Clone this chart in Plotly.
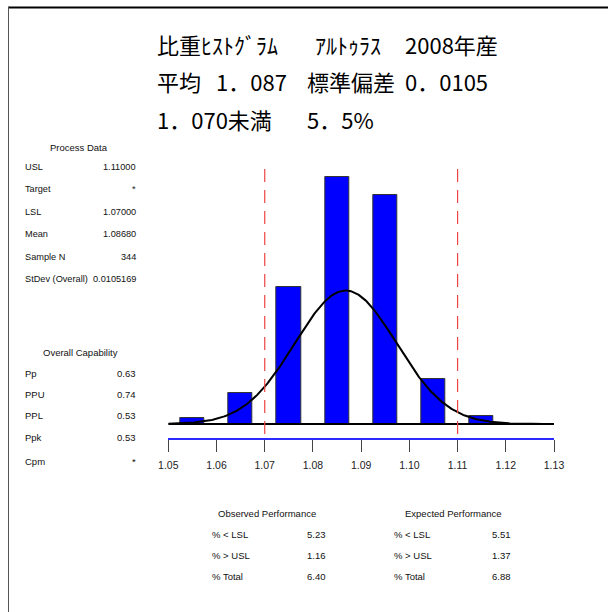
import numpy as np
import plotly.graph_objects as go

# ---------------- data ----------------
bin_centers = [1.055, 1.065, 1.075, 1.085, 1.095, 1.105, 1.115]
counts = [3, 15, 67, 121, 112, 22, 4]
bin_width = 0.005
LSL, USL = 1.07, 1.11
mean, stdev, n = 1.0868, 0.0105169, 344
tick_vals = [1.05, 1.06, 1.07, 1.08, 1.09, 1.10, 1.11, 1.12, 1.13]
tick_text = ["1.05", "1.06", "1.07", "1.08", "1.09", "1.10", "1.11", "1.12", "1.13"]

process_labels = ["USL", "Target", "LSL", "Mean", "Sample N", "StDev (Overall)"]
process_values = ["1.11000", "*", "1.07000", "1.08680", "344", "0.0105169"]
cap_labels = ["Pp", "PPU", "PPL", "Ppk", "", "Cpm"]
cap_values = ["0.63", "0.74", "0.53", "0.53", "", "*"]
perf_labels = ["% < LSL", "% > USL", "% Total"]
obs_values = ["5.23", "1.16", "6.40"]
exp_values = ["5.51", "1.37", "6.88"]

title_lines = [
    [("比重ﾋｽﾄｸﾞﾗﾑ", 155), ("ｱﾙﾄｩﾗｽ", 313), ("2008年産", 403)],
    [("平均", 155), ("1．087", 214), ("標準偏差", 305), ("0．0105", 403)],
    [("1．070未満", 155), ("5．5%", 305)],
]

# ---------------- layout geometry ----------------
W, H = 608, 612
def px(x): return x / W
def py(y): return 1 - y / H

ppc = 2.045  # pixels per count
y_top_px, y_base_px, y_axis_px = 169, 424, 438
ymin = -(y_axis_px - y_base_px) / ppc
ymax = (y_base_px - y_top_px) / ppc

SANS = "Liberation Sans, Arial, sans-serif"
CJK = "Noto Sans CJK JP"

fig = go.Figure()
fig.add_trace(go.Bar(
    x=bin_centers, y=counts, width=bin_width,
    marker=dict(color="#0000ff", line=dict(color="#333333", width=1)),
    hoverinfo="skip", showlegend=False,
))

xs = np.linspace(1.05, 1.13, 400)
curve = n * bin_width * np.exp(-0.5 * ((xs - mean) / stdev) ** 2) / (stdev * np.sqrt(2 * np.pi))
fig.add_trace(go.Scatter(x=xs, y=curve, mode="lines",
                         line=dict(color="black", width=2), showlegend=False, hoverinfo="skip"))

shapes = []
shapes.append(dict(type="line", xref="x", yref="y", x0=1.05, x1=1.13, y0=0, y1=0,
                   line=dict(color="black", width=2), layer="above"))
for v in (LSL, USL):
    shapes.append(dict(type="line", xref="x", yref="y", x0=v, x1=v, y0=ymax, y1=ymin,
                       line=dict(color="#ee4444", width=1.2, dash="13px,8px"), layer="above"))
shapes.append(dict(type="line", xref="paper", yref="paper", x0=px(8), x1=1, y0=py(7.5), y1=py(7.5),
                   line=dict(color="black", width=2)))
shapes.append(dict(type="line", xref="paper", yref="paper", x0=px(8.5), x1=px(8.5), y0=py(7), y1=0,
                   line=dict(color="#555555", width=1)))

ann = []
for i, line in enumerate(title_lines):
    yc = [44, 81, 119][i]
    for txt, xl in line:
        ann.append(dict(text=txt, x=px(xl), y=py(yc), xref="paper", yref="paper",
                        xanchor="left", yanchor="middle", showarrow=False,
                        font=dict(family=CJK, size=22, color="black")))

def add_text(txt, x, y, anchor, size=9.5):
    ann.append(dict(text=txt, x=px(x), y=py(y), xref="paper", yref="paper",
                    xanchor=anchor, yanchor="middle", showarrow=False,
                    font=dict(family=SANS, size=size, color="#111111")))

add_text("Process Data", 79, 147, "center")
for i, (l, v) in enumerate(zip(process_labels, process_values)):
    yy = 167 + i * 22.4
    add_text(l, 23, yy, "left", 9.2)
    add_text(v, 138, yy, "right", 9.2)

add_text("Overall Capability", 80, 352, "center")
cap_y = [373, 394, 415, 437, 0, 461]
for l, v, yy in zip(cap_labels, cap_values, cap_y):
    if l:
        add_text(l, 23, yy, "left")
        add_text(v, 138, yy, "right")

add_text("Observed Performance", 267, 513, "center")
add_text("Expected Performance", 453, 513, "center")
for i, l in enumerate(perf_labels):
    yy = 534 + i * 21
    add_text(l, 210, yy, "left")
    add_text(obs_values[i], 328, yy, "right")
    add_text(l, 392, yy, "left")
    add_text(exp_values[i], 513, yy, "right")

fig.update_layout(
    width=W, height=H, autosize=False,
    margin=dict(l=0, r=0, t=0, b=0, pad=0, autoexpand=False),
    paper_bgcolor="white", plot_bgcolor="white",
    showlegend=False,
    bargap=0,
    xaxis=dict(domain=[px(168.3), px(554)], range=[1.05, 1.13],
               tickvals=tick_vals, ticktext=tick_text,
               showline=True, linecolor="#2a2aff", linewidth=1.5,
               ticks="outside", ticklen=12, tickwidth=1, tickcolor="#444444",
               ticklabelstandoff=5, automargin=False,
               showgrid=False, zeroline=False,
               tickfont=dict(family=SANS, size=10.5, color="#222222")),
    yaxis=dict(domain=[py(y_axis_px), py(y_top_px)], range=[ymin, ymax],
               visible=False, showgrid=False, zeroline=False, automargin=False),
    shapes=shapes,
    annotations=ann,
)

post = ("document.documentElement.style.margin='0';document.body.style.margin='0';"
        "document.body.style.padding='0';document.body.style.overflow='hidden';"
        "document.documentElement.style.overflow='hidden';")
fig.write_html("out.html", post_script=post, config={"displayModeBar": False, "responsive": False})
